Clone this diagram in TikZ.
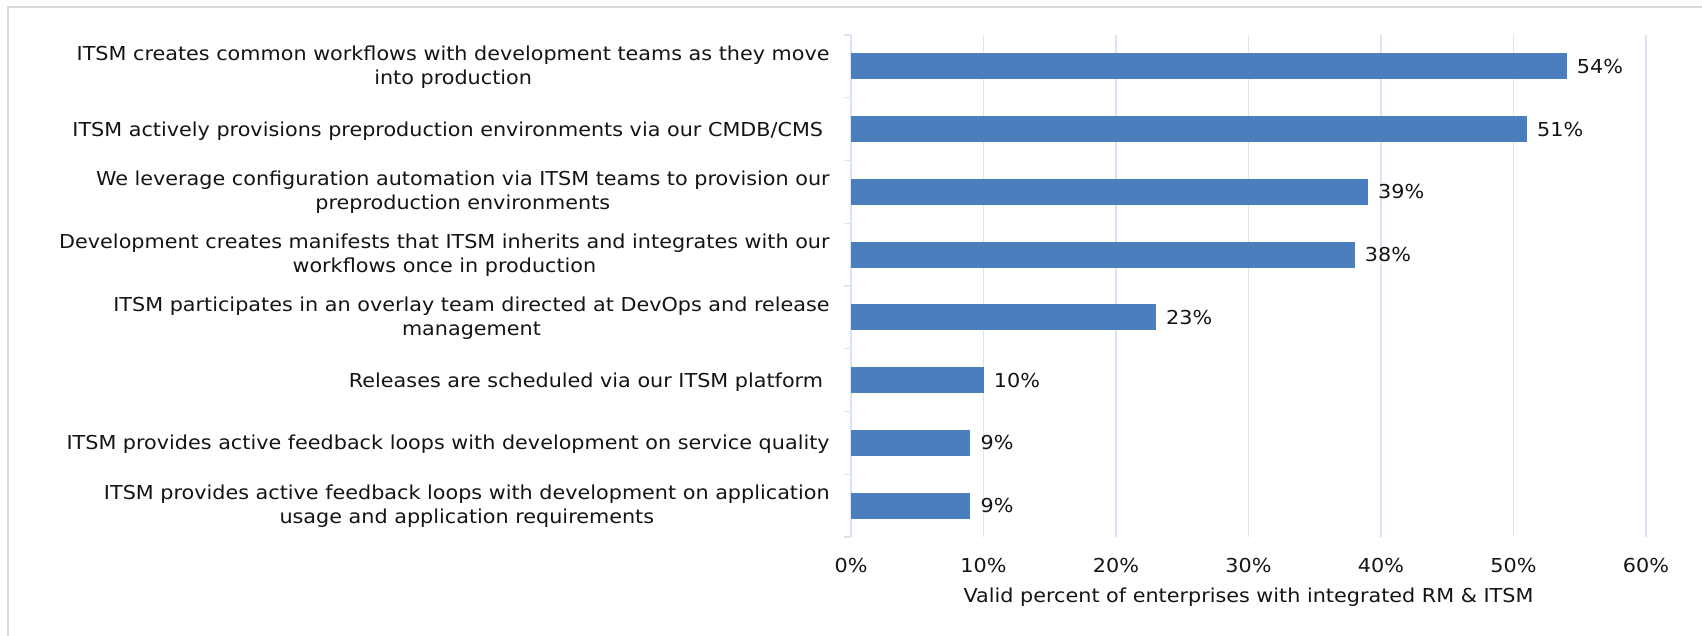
\documentclass[tikz,border=0pt]{standalone}
\usepackage{fontspec}
\setmainfont[FakeStretch=1.08]{DejaVu Sans}
\definecolor{barblue}{RGB}{74,126,189}
\definecolor{gridblue}{RGB}{217,229,244}
\definecolor{framegray}{RGB}{217,217,217}
\definecolor{txt}{RGB}{20,20,20}
\begin{document}
\begin{tikzpicture}[x=0.5pt,y=-0.5pt,
  txtfont/.style={font=\fontsize{9.6}{12}\selectfont, text=txt},
  catlabel/.style={txtfont, inner sep=0pt, anchor=base east, align=center},
  vallabel/.style={txtfont, inner sep=0pt, anchor=base west},
  ticklabel/.style={txtfont, inner sep=0pt, anchor=base},
  gridline/.style={draw=gridblue, line width=0.7pt},
  barshape/.style={fill=barblue, draw=none}]
\useasboundingbox (0,0) rectangle (1702,636);
\begin{scope}
\clip (0,0) rectangle (1702,636);
\draw[framegray, line width=0.8pt] (8,7) rectangle (1720,660);
\end{scope}
% gridlines
\foreach \k in {1,...,6} {
  \draw[gridline] ({851+132.5*\k},35) -- ({851+132.5*\k},537);
}
% axis and ticks
\draw[gridline] (851,35) -- (851,537);
\foreach \j in {0,...,8} {
  \draw[gridline] (844,{35+62.75*\j}) -- (851,{35+62.75*\j});
}
% bars and value labels
\foreach \i/\v in {0/54,1/51,2/39,3/38,4/23,5/10,6/9,7/9} {
  \pgfmathsetmacro{\c}{35+62.75*(\i+0.5)}
  \pgfmathsetmacro{\e}{851+13.25*\v}
  \fill[barshape] (851,\c-13) rectangle (\e,\c+13);
  \node[vallabel] (v\i) at (\e+10,\c+7) {\v\%};
}
% category labels
\node[catlabel] (l0) at (830,{35+62.75*0.5+18}) {ITSM creates common workflows with development teams as they move\\into production};
\node[catlabel] (l1) at (830,{35+62.75*1.5+7}) {ITSM actively provisions preproduction environments via our CMDB/CMS\ };
\node[catlabel] (l2) at (830,{35+62.75*2.5+18}) {We leverage configuration automation via ITSM teams to provision our\\preproduction environments};
\node[catlabel] (l3) at (830,{35+62.75*3.5+18}) {Development creates manifests that ITSM inherits and integrates with our\\workflows once in production};
\node[catlabel] (l4) at (830,{35+62.75*4.5+18}) {ITSM participates in an overlay team directed at DevOps and release\\management};
\node[catlabel] (l5) at (830,{35+62.75*5.5+7}) {Releases are scheduled via our ITSM platform\ };
\node[catlabel] (l6) at (830,{35+62.75*6.5+7}) {ITSM provides active feedback loops with development on service quality};
\node[catlabel] (l7) at (830,{35+62.75*7.5+18}) {ITSM provides active feedback loops with development on application\\usage and application requirements};
% x tick labels
\foreach \k in {0,...,6} {
  \node[ticklabel] (t\k) at ({851+132.5*\k},572) {\the\numexpr\k*10\relax\%};
}
\node[ticklabel] (title) at (1248.5,602) {Valid percent of enterprises with integrated RM \& ITSM};
\end{tikzpicture}
\end{document}
